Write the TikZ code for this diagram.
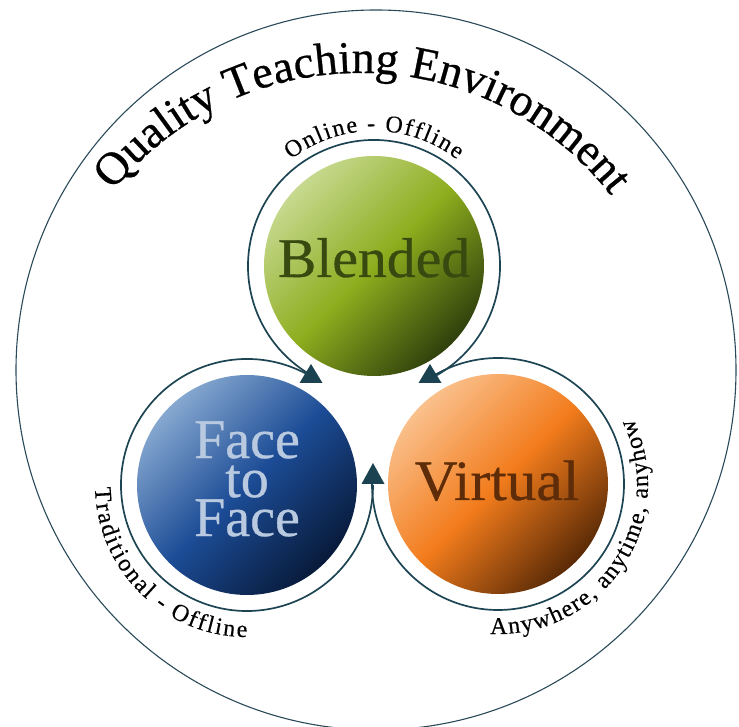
\documentclass[tikz,border=0pt]{standalone}
\usepackage{fontspec}
\setmainfont{Liberation Serif}
\newfontfamily\heavyserif{Liberation Serif}[FakeBold=0.6]
\newfontfamily\mediumserif{Liberation Serif}[FakeBold=0.35]
\usetikzlibrary{decorations.text,calc}
\definecolor{ringcol}{HTML}{1D4452}
\definecolor{outercol}{HTML}{2A4A5A}
\definecolor{arrowcol}{HTML}{1A4250}
\definecolor{gtop}{HTML}{C6D98F}
\definecolor{gmid}{HTML}{8DAD1E}
\definecolor{gbot}{HTML}{2F400C}
\definecolor{btop}{HTML}{86A8D0}
\definecolor{bmid}{HTML}{1C4C96}
\definecolor{bbot}{HTML}{081A3A}
\definecolor{otop}{HTML}{FAC08C}
\definecolor{omid}{HTML}{F27C1C}
\definecolor{obot}{HTML}{5A2A06}
\definecolor{gtxt}{HTML}{384A10}
\definecolor{btxt}{HTML}{B8C9E0}
\definecolor{otxt}{HTML}{5E2C08}
\newcommand\titlefont{\heavyserif\fontsize{46}{50}\selectfont}
\newcommand\smallarcfont{\mediumserif\fontsize{24}{26}\selectfont}
\tikzset{
  outerline/.style={draw=outercol, line width=1.1pt},
  ringline/.style={draw=ringcol, line width=1.7pt},
  ballnode/.style={circle, minimum size=220pt, inner sep=0pt, draw=none},
  balltext/.style={inner sep=0pt, anchor=base},
  tipfill/.style={fill=arrowcol},
}
\begin{document}
\begin{tikzpicture}[x=1pt,y=1pt]
\useasboundingbox (0,0) rectangle (739,727);
\coordinate (C) at (376,357);
\coordinate (T) at (360,336);
\coordinate (G) at (374,461);
\coordinate (B) at (247,242);
\coordinate (O) at (498,243);
\coordinate (J1) at (311,344);
\coordinate (J2) at (430,344);
\coordinate (J3) at (373,243);

% outer circle
\draw[outerline] (C) circle[radius=360];

% title
\path[decorate, decoration={text along path, text align=fit to path,
  text={|\titlefont|Quality Teaching Environment}}]
  (T) ++(141:318) arc[start angle=141, end angle=38, radius=318];

% rings
\draw[ringline] (G) ++(-60:126) arc[start angle=-60, end angle=240, radius=126];
\draw[ringline] (B) ++(60:126) arc[start angle=60, end angle=360, radius=126];
\draw[ringline] (O) ++(180:126) arc[start angle=180, end angle=480, radius=126];

% balls
\node[ballnode, top color=gtop, bottom color=gbot, middle color=gmid, shading angle=45] (blended) at (G) {};
\node[ballnode, top color=btop, bottom color=bbot, middle color=bmid, shading angle=45] (face) at (B) {};
\node[ballnode, top color=otop, bottom color=obot, middle color=omid, shading angle=45] (virtual) at (O) {};

% ball labels
\node[balltext, text=gtxt, font=\heavyserif\fontsize{56}{56}\selectfont] (blendedlbl) at (374,450) {\scalebox{1.03}[1]{Blended}};
\node[balltext, text=otxt, font=\heavyserif\fontsize{57}{57}\selectfont] (virtuallbl) at (497,227) {\scalebox{1.04}[1]{Virtual}};
\node[inner sep=0pt, text=btxt, align=center, font=\heavyserif\fontsize{56}{39}\selectfont] (facelbl) at (247,248) {Face\\to\\Face};

% arrowheads
\fill[tipfill] ($(J1)+(-11.5,0)$) -- ($(J1)+(0,19)$) -- ($(J1)+(11.5,0)$) -- cycle;
\fill[tipfill] ($(J2)+(-11.5,0)$) -- ($(J2)+(0,19)$) -- ($(J2)+(11.5,0)$) -- cycle;
\fill[tipfill] ($(J3)+(-11.5,0)$) -- ($(J3)+(0,21)$) -- ($(J3)+(11.5,0)$) -- cycle;

% arc texts
\path[decorate, decoration={text along path, text align=fit to path,
  text={|\smallarcfont|Online - Offline}}]
  (G) ++(128:135) arc[start angle=128, end angle=52, radius=135];
\path[decorate, decoration={text along path, text align=fit to path,
  text={|\smallarcfont|Traditional - Offline}}]
  (B) ++(181:152) arc[start angle=181, end angle=270, radius=152];
\path[decorate, decoration={text along path, text align=fit to path,
  text={|\smallarcfont|Anywhere, anytime, anyhow}}]
  (O) ++(267:150) arc[start angle=267, end angle=386, radius=150];
\end{tikzpicture}
\end{document}
